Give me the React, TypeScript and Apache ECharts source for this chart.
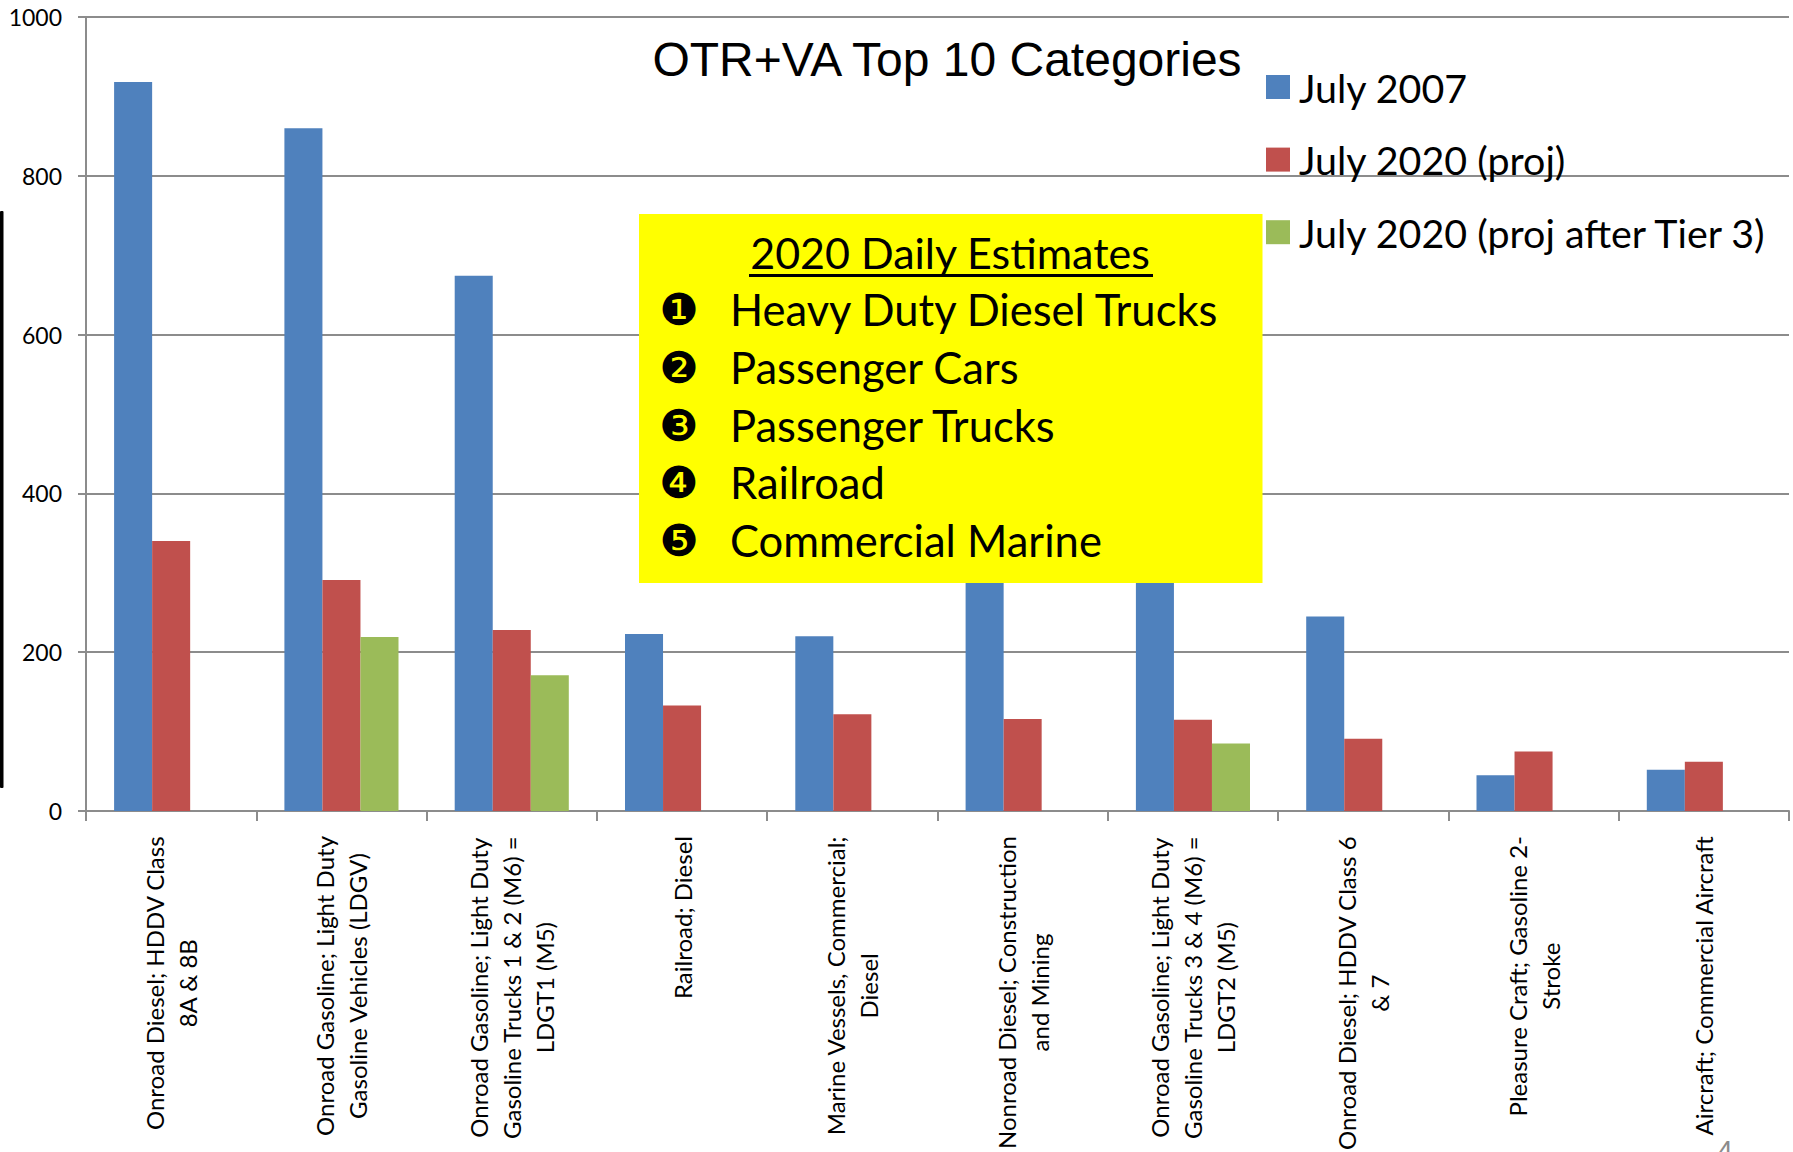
import React, { useEffect, useRef } from "react";
import * as echarts from "echarts";

const categories = [
  "Onroad Diesel; HDDV Class\n8A & 8B",
  "Onroad Gasoline; Light Duty\nGasoline Vehicles (LDGV)",
  "Onroad Gasoline; Light Duty\nGasoline Trucks 1 & 2 (M6) =\nLDGT1 (M5)",
  "Railroad; Diesel",
  "Marine Vessels, Commercial;\nDiesel",
  "Nonroad Diesel; Construction\nand Mining",
  "Onroad Gasoline; Light Duty\nGasoline Trucks 3 & 4 (M6) =\nLDGT2 (M5)",
  "Onroad Diesel; HDDV Class 6\n& 7",
  "Pleasure Craft; Gasoline 2-\nStroke",
  "Aircraft; Commercial Aircraft",
];
const july2007 = [918, 860, 674, 223, 220, 320, 340, 245, 45, 52];
const july2020 = [340, 291, 228, 133, 122, 116, 115, 91, 75, 62];
const july2020Tier3 = [null, 219, 171, null, null, null, 85, null, null, null];
const seriesNames = ["July 2007", "July 2020 (proj)", "July 2020 (proj after Tier 3)"];
const boxTitle = "2020 Daily Estimates";
const boxItems = ["Heavy Duty Diesel Trucks", "Passenger Cars", "Passenger Trucks", "Railroad", "Commercial Marine"];
const boxBullets = ["❶", "❷", "❸", "❹", "❺"];
const boxItemY = [309, 367, 425, 482, 540];

const FONT = "Lato, 'Noto Sans', sans-serif";
const AXIS = "#8c8c8c";

export default function App() {
  const ref = useRef<HTMLDivElement>(null);
  useEffect(() => {
    const chart = echarts.init(ref.current!, null, { renderer: "svg" });
    const graphic: any[] = [
      { type: "rect", z: 100, shape: { x: 0, y: 211, width: 3.5, height: 577, r: 1 }, style: { fill: "#000" } },
      { type: "rect", z: 100, shape: { x: 639, y: 214, width: 623.5, height: 369 }, style: { fill: "#ffff00" } },
      { type: "text", z: 101, x: 950, y: 252, style: { text: boxTitle, fill: "#000", font: `43px ${FONT}`, align: "center", verticalAlign: "middle" } },
      { type: "rect", z: 101, shape: { x: 749, y: 274, width: 404, height: 3 }, style: { fill: "#000" } },
      { type: "text", z: 101, x: 947, y: 59, style: { text: "OTR+VA Top 10 Categories", fill: "#000", font: "48px 'Liberation Sans', Arial, sans-serif", align: "center", verticalAlign: "middle" } },
      { type: "text", z: 101, x: 1725, y: 1136, style: { text: "4", fill: "#8b8b8b", font: "28px 'Liberation Sans', Arial, sans-serif", align: "center", verticalAlign: "top" } },
    ];
    boxItems.forEach((t, i) => {
      graphic.push({ type: "text", z: 101, x: 679, y: boxItemY[i], style: { text: boxBullets[i], fill: "#000", font: "44px 'DejaVu Sans', sans-serif", align: "center", verticalAlign: "middle" } });
      graphic.push({ type: "text", z: 101, x: 730, y: boxItemY[i], style: { text: t, fill: "#000", font: `43.5px ${FONT}`, align: "left", verticalAlign: "middle" } });
    });
    const colors = ["#4f81bd", "#c0504d", "#9bbb59"];
    chart.setOption({
      animation: false,
      backgroundColor: "#fff",
      grid: { left: 86, right: 4, top: 17, height: 794, containLabel: false, outerBoundsMode: "none" },
      legend: {
        orient: "vertical", left: 1266, top: 65.5, itemWidth: 24, itemHeight: 24, itemGap: 29.6, icon: "rect",
        data: seriesNames, selectedMode: false, padding: 0,
        textStyle: { fontFamily: FONT, fontSize: 39.4, lineHeight: 40, color: "#000", padding: [0, 0, 3, 4] },
      },
      xAxis: {
        type: "category",
        data: categories,
        axisLine: { lineStyle: { color: AXIS, width: 2 } },
        axisTick: { show: true, length: 10, alignWithLabel: false, lineStyle: { color: AXIS, width: 2 } },
        axisLabel: {
          interval: 0, rotate: 90, margin: 25, color: "#000",
          formatter: (v: string) => v.split("\n").map((l) => `{c|${l}}`).join("\n"),
          rich: { c: { align: "center", fontFamily: FONT, fontSize: 24, lineHeight: 33, color: "#000" } },
        },
      },
      yAxis: {
        type: "value", min: 0, max: 1000, interval: 200,
        axisLine: { show: true, lineStyle: { color: AXIS, width: 2 } },
        axisTick: { show: true, length: 8, lineStyle: { color: AXIS, width: 2 } },
        splitLine: { show: true, lineStyle: { color: AXIS, width: 2 } },
        axisLabel: { margin: 24, color: "#000", fontFamily: FONT, fontSize: 23, formatter: (v: number) => String(v) },
      },
      series: [july2007, july2020, july2020Tier3].map((d, i) => ({
        type: "bar", name: seriesNames[i], data: d, barGap: 0, barCategoryGap: "33%",
        itemStyle: { color: colors[i] },
      })),
      graphic,
    });
    return () => chart.dispose();
  }, []);
  return <div ref={ref} style={{ position: "fixed", left: 0, top: 0, width: 1793, height: 1152 }} />;
}
